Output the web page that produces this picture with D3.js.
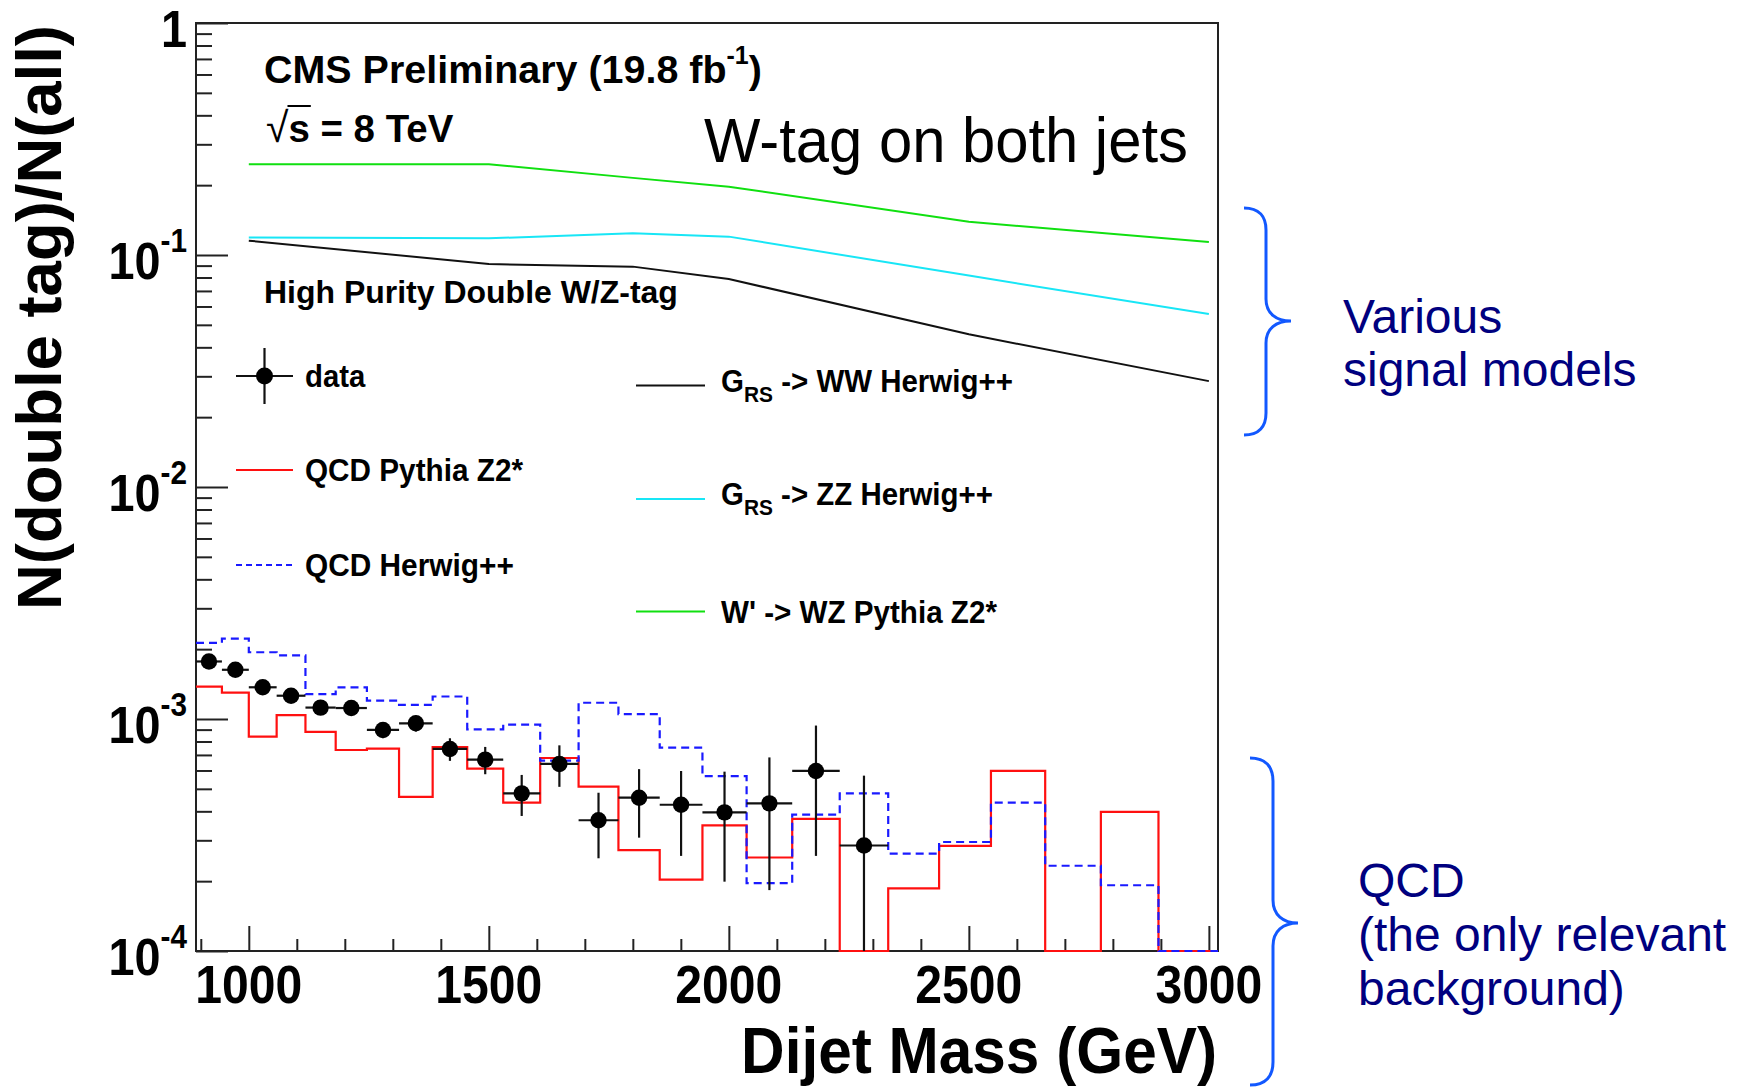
<!DOCTYPE html>
<html>
<head>
<meta charset="utf-8">
<script src="https://cdn.jsdelivr.net/npm/d3@7"></script>
<style>
  body { margin: 0; background: #fff; }
  svg { display: block; }
  text { font-family: "Liberation Sans", Arial, Helvetica, sans-serif; }
</style>
</head>
<body>
<svg id="chart" width="1740" height="1087"></svg>
<script>
// Dijet mass bin edges (GeV)
const binEdges = [890, 944, 1000, 1058, 1118, 1181, 1246, 1313, 1383, 1455, 1530,
                  1607, 1687, 1770, 1856, 1945, 2037, 2132, 2231, 2332, 2438,
                  2546, 2659, 2775, 2895, 3019];

// Double-tag fraction measured in data (first 19 bins) and its uncertainty
const dataValues = [1.77e-3, 1.63e-3, 1.37e-3, 1.26e-3, 1.12e-3, 1.115e-3, 8.97e-4, 9.58e-4,
                    7.43e-4, 6.68e-4, 4.78e-4, 6.40e-4, 3.66e-4, 4.58e-4, 4.27e-4, 3.96e-4,
                    4.33e-4, 5.97e-4, 2.85e-4];
const dataErrors = [0.7e-4, 0.7e-4, 0.65e-4, 0.65e-4, 0.65e-4, 0.7e-4, 0.7e-4, 0.75e-4,
                    0.83e-4, 0.9e-4, 0.96e-4, 1.3e-4, 1.15e-4, 1.5e-4, 1.7e-4, 1.97e-4,
                    2.5e-4, 3.4e-4, 2.85e-4];

// QCD simulation, per bin
const qcdPythia = [1.38e-3, 1.30e-3, 8.4e-4, 1.04e-3, 8.8e-4, 7.35e-4, 7.45e-4, 4.62e-4,
                   7.57e-4, 6.11e-4, 4.36e-4, 6.79e-4, 5.11e-4, 2.72e-4, 2.03e-4, 3.48e-4,
                   2.53e-4, 3.71e-4, 0, 1.86e-4, 2.84e-4, 5.97e-4, 0, 3.98e-4, 0];
const qcdHerwig = [2.13e-3, 2.22e-3, 1.94e-3, 1.88e-3, 1.28e-3, 1.37e-3, 1.20e-3, 1.15e-3,
                   1.25e-3, 9.03e-4, 9.45e-4, 6.61e-4, 1.175e-3, 1.05e-3, 7.52e-4, 5.67e-4,
                   1.96e-4, 3.87e-4, 4.78e-4, 2.63e-4, 2.95e-4, 4.36e-4, 2.33e-4, 1.92e-4, 0];

// Signal efficiencies vs resonance mass
const signalMass  = [1000, 1500, 1800, 2000, 2500, 3000];
const gravitonWW  = [0.1153, 0.0914, 0.0891, 0.0788, 0.0455, 0.0286];
const gravitonZZ  = [0.119, 0.118, 0.124, 0.120, 0.0815, 0.0557];
const wprimeWZ    = [0.246, 0.246, 0.215, 0.197, 0.139, 0.1137];

// Axis ticks
const xTickValues = [1000, 1500, 2000, 2500, 3000];
const yTickValues = [1, 1e-1, 1e-2, 1e-3, 1e-4];
const yTickBase   = ["1", "10", "10", "10", "10"];
const yTickSup    = ["", "-1", "-2", "-3", "-4"];

const svg = d3.select("#chart");
const frame = { left: 196, right: 1218, top: 23, bottom: 951 };

const x = d3.scaleLinear().domain([890, 3019]).range([frame.left, frame.right]);
const y = d3.scaleLog().domain([1e-4, 1]).range([frame.bottom, frame.top]);
const yc = v => y(Math.max(v, 1e-4));

// Text placed in a group, optionally squeezed horizontally to a given width
function addText(parent, o, build) {
  const g = parent.append("g");
  const t = g.append("text")
    .attr("text-anchor", o.anchor || "start")
    .attr("font-size", o.size)
    .attr("font-weight", o.weight || "normal")
    .attr("fill", o.fill || "#000");
  build(t);
  let s = o.scale || 1;
  if (o.width) {
    const w0 = t.node().getBBox().width;
    if (w0 > 0) s = o.width / w0;
  }
  g.attr("transform", `translate(${o.x},${o.y})${o.rotate ? ` rotate(${o.rotate})` : ""} scale(${s},1)`);
  return { g, t };
}

// ---------- axes and frame ----------
const yMinor = [];
for (let k = -4; k < 0; k++) for (let m = 2; m <= 9; m++) yMinor.push(m * Math.pow(10, k));
const xMinor = d3.range(900, 3001, 100).filter(v => v % 500 !== 0);

function styleAxis(g) {
  g.select(".domain").remove();
  g.selectAll(".tick line").attr("stroke", "#222").attr("stroke-width", 2);
  g.selectAll(".tick text").remove();
}
svg.append("g").attr("transform", `translate(${frame.left},0)`)
  .call(d3.axisLeft(y).tickValues(yTickValues).tickSize(-32).tickFormat(""))
  .call(styleAxis);
svg.append("g").attr("transform", `translate(${frame.left},0)`)
  .call(d3.axisLeft(y).tickValues(yMinor).tickSize(-16).tickFormat(""))
  .call(styleAxis);
svg.append("g").attr("transform", `translate(0,${frame.bottom})`)
  .call(d3.axisBottom(x).tickValues(xTickValues).tickSize(-25).tickFormat(""))
  .call(styleAxis);
svg.append("g").attr("transform", `translate(0,${frame.bottom})`)
  .call(d3.axisBottom(x).tickValues(xMinor).tickSize(-12).tickFormat(""))
  .call(styleAxis);

svg.append("rect")
  .attr("x", frame.left).attr("y", frame.top)
  .attr("width", frame.right - frame.left).attr("height", frame.bottom - frame.top)
  .attr("fill", "none").attr("stroke", "#222").attr("stroke-width", 2);

// ---------- histograms (drawn over the frame, empty bins sit on the bottom edge) ----------
function stepPath(values) {
  const pts = [];
  values.forEach((v, i) => {
    pts.push([x(binEdges[i]), yc(v)]);
    pts.push([x(binEdges[i + 1]), yc(v)]);
  });
  return d3.line()(pts);
}

svg.append("path")
  .attr("d", stepPath(qcdPythia))
  .attr("fill", "none").attr("stroke", "#ff1010").attr("stroke-width", 2.2);

svg.append("path")
  .attr("d", stepPath(qcdHerwig))
  .attr("fill", "none").attr("stroke", "#1a1aff").attr("stroke-width", 2.2)
  .attr("stroke-dasharray", "8,5");

// ---------- signal curves ----------
const sigLine = d3.line().x(d => x(d[0])).y(d => y(d[1]));
[[wprimeWZ, "#10e010"], [gravitonZZ, "#18e6f6"], [gravitonWW, "#111"]].forEach(([vals, col]) => {
  svg.append("path")
    .attr("d", sigLine(signalMass.map((m, i) => [m, vals[i]])))
    .attr("fill", "none").attr("stroke", col).attr("stroke-width", 2);
});

// ---------- data points ----------
const dataG = svg.append("g").attr("stroke", "#111").attr("stroke-width", 2.2);
dataValues.forEach((v, i) => {
  const cx = x((binEdges[i] + binEdges[i + 1]) / 2);
  dataG.append("line")
    .attr("x1", x(binEdges[i])).attr("x2", x(binEdges[i + 1]))
    .attr("y1", y(v)).attr("y2", y(v));
  dataG.append("line")
    .attr("x1", cx).attr("x2", cx)
    .attr("y1", yc(v - dataErrors[i])).attr("y2", yc(v + dataErrors[i]));
  dataG.append("circle")
    .attr("cx", cx).attr("cy", y(v)).attr("r", 8.2)
    .attr("fill", "#000").attr("stroke", "none");
});

// tick labels
xTickValues.forEach(v => {
  addText(svg, { x: x(v), y: 1003, size: 53, weight: "bold", anchor: "middle", width: 107 },
    t => t.text(String(v)));
});
yTickValues.forEach((v, i) => {
  addText(svg, { x: 187, y: y(v) + 24, size: 52, weight: "bold", anchor: "end", scale: 0.9 }, t => {
    t.append("tspan").text(yTickBase[i]);
    if (yTickSup[i]) t.append("tspan").attr("font-size", 33).attr("dy", -27).text(yTickSup[i]);
  });
});

// axis titles
addText(svg, { x: 1217, y: 1073, size: 65, weight: "bold", anchor: "end", width: 476 },
  t => t.text("Dijet Mass (GeV)"));
addText(svg, { x: 61, y: 25, size: 63, weight: "bold", anchor: "end", rotate: -90, width: 585 },
  t => t.text("N(double tag)/N(all)"));

// ---------- labels inside the frame ----------
addText(svg, { x: 264, y: 83, size: 39.5, weight: "bold", width: 498 }, t => {
  t.append("tspan").text("CMS Preliminary (19.8 fb");
  t.append("tspan").attr("font-size", 25).attr("dy", -19).text("-1");
  t.append("tspan").attr("dy", 19).text(")");
});

const sq = addText(svg, { x: 266, y: 142, size: 39.5, weight: "bold", width: 188 }, t => {
  t.append("tspan").attr("font-weight", "normal").attr("font-size", 42).text("\u221A");
  t.append("tspan").text("s = 8 TeV");
});
{
  const n = sq.t.node();
  const a = n.getStartPositionOfChar(1).x, b = n.getEndPositionOfChar(1).x;
  sq.g.append("line").attr("x1", a - 1).attr("x2", b + 1).attr("y1", -36).attr("y2", -36)
    .attr("stroke", "#000").attr("stroke-width", 2);
}

addText(svg, { x: 704, y: 161.5, size: 63, width: 484 }, t => t.text("W-tag on both jets"));
addText(svg, { x: 264, y: 303, size: 32, weight: "bold", width: 414 },
  t => t.text("High Purity Double W/Z-tag"));

// ---------- legend ----------
const leg = svg.append("g");
// data entry
leg.append("line").attr("x1", 236).attr("x2", 293).attr("y1", 376).attr("y2", 376)
  .attr("stroke", "#111").attr("stroke-width", 2.2);
leg.append("line").attr("x1", 264.5).attr("x2", 264.5).attr("y1", 348).attr("y2", 404)
  .attr("stroke", "#111").attr("stroke-width", 2.2);
leg.append("circle").attr("cx", 264.5).attr("cy", 376).attr("r", 8.5).attr("fill", "#000");
addText(leg, { x: 305, y: 387, size: 31, weight: "bold", width: 61 }, t => t.text("data"));

leg.append("line").attr("x1", 236).attr("x2", 293).attr("y1", 470).attr("y2", 470)
  .attr("stroke", "#ff1010").attr("stroke-width", 2);
addText(leg, { x: 305, y: 481, size: 31, weight: "bold", width: 219 }, t => t.text("QCD Pythia Z2*"));

leg.append("line").attr("x1", 236).attr("x2", 293).attr("y1", 565).attr("y2", 565)
  .attr("stroke", "#1a1aff").attr("stroke-width", 2).attr("stroke-dasharray", "6,4");
addText(leg, { x: 305, y: 576, size: 31, weight: "bold", width: 209 }, t => t.text("QCD Herwig++"));

const rightEntries = [
  { y: 385.5, col: "#111", sub: "RS", rest: " -> WW Herwig++", head: "G", w: 292 },
  { y: 499, col: "#18e6f6", sub: "RS", rest: " -> ZZ Herwig++", head: "G", w: 272 },
  { y: 611.5, col: "#10e010", sub: "", rest: "W' -> WZ Pythia Z2*", head: "", w: 277 }
];
rightEntries.forEach(e => {
  leg.append("line").attr("x1", 636).attr("x2", 705).attr("y1", e.y).attr("y2", e.y)
    .attr("stroke", e.col).attr("stroke-width", 2);
  addText(leg, { x: 721, y: e.y + (e.sub ? 6 : 11), size: 31, weight: "bold", width: e.w }, t => {
    if (e.head) t.append("tspan").text(e.head);
    if (e.sub) {
      t.append("tspan").attr("font-size", 22).attr("dy", 10).text(e.sub);
      t.append("tspan").attr("dy", -10).text(e.rest);
    } else {
      t.append("tspan").text(e.rest);
    }
  });
});

// ---------- annotations ----------
function brace(xEnd, xSpine, xTip, yTop, yTip, yBot) {
  const r = xSpine - xEnd;
  return `M${xEnd},${yTop} C${xEnd + r * 0.7},${yTop} ${xSpine},${yTop + r * 0.4} ${xSpine},${yTop + r}` +
    ` L${xSpine},${yTip - r}` +
    ` C${xSpine},${yTip - r * 0.35} ${xSpine + (xTip - xSpine) * 0.4},${yTip} ${xTip},${yTip}` +
    ` C${xSpine + (xTip - xSpine) * 0.4},${yTip} ${xSpine},${yTip + r * 0.35} ${xSpine},${yTip + r}` +
    ` L${xSpine},${yBot - r}` +
    ` C${xSpine},${yBot - r * 0.4} ${xEnd + r * 0.7},${yBot} ${xEnd},${yBot}`;
}
svg.append("path").attr("d", brace(1244, 1266, 1291, 208, 321, 435))
  .attr("fill", "none").attr("stroke", "#1258ff").attr("stroke-width", 3);
svg.append("path").attr("d", brace(1250, 1273, 1298, 758, 923, 1085))
  .attr("fill", "none").attr("stroke", "#1258ff").attr("stroke-width", 3);

const note = svg.append("g").attr("fill", "#00007f").attr("font-size", 48);
[["Various", 1343, 333], ["signal models", 1343, 386],
 ["QCD", 1358, 897], ["(the only relevant", 1358, 951], ["background)", 1358, 1005]]
  .forEach(([s, tx, ty]) => note.append("text").attr("x", tx).attr("y", ty).text(s));
</script>
</body>
</html>
